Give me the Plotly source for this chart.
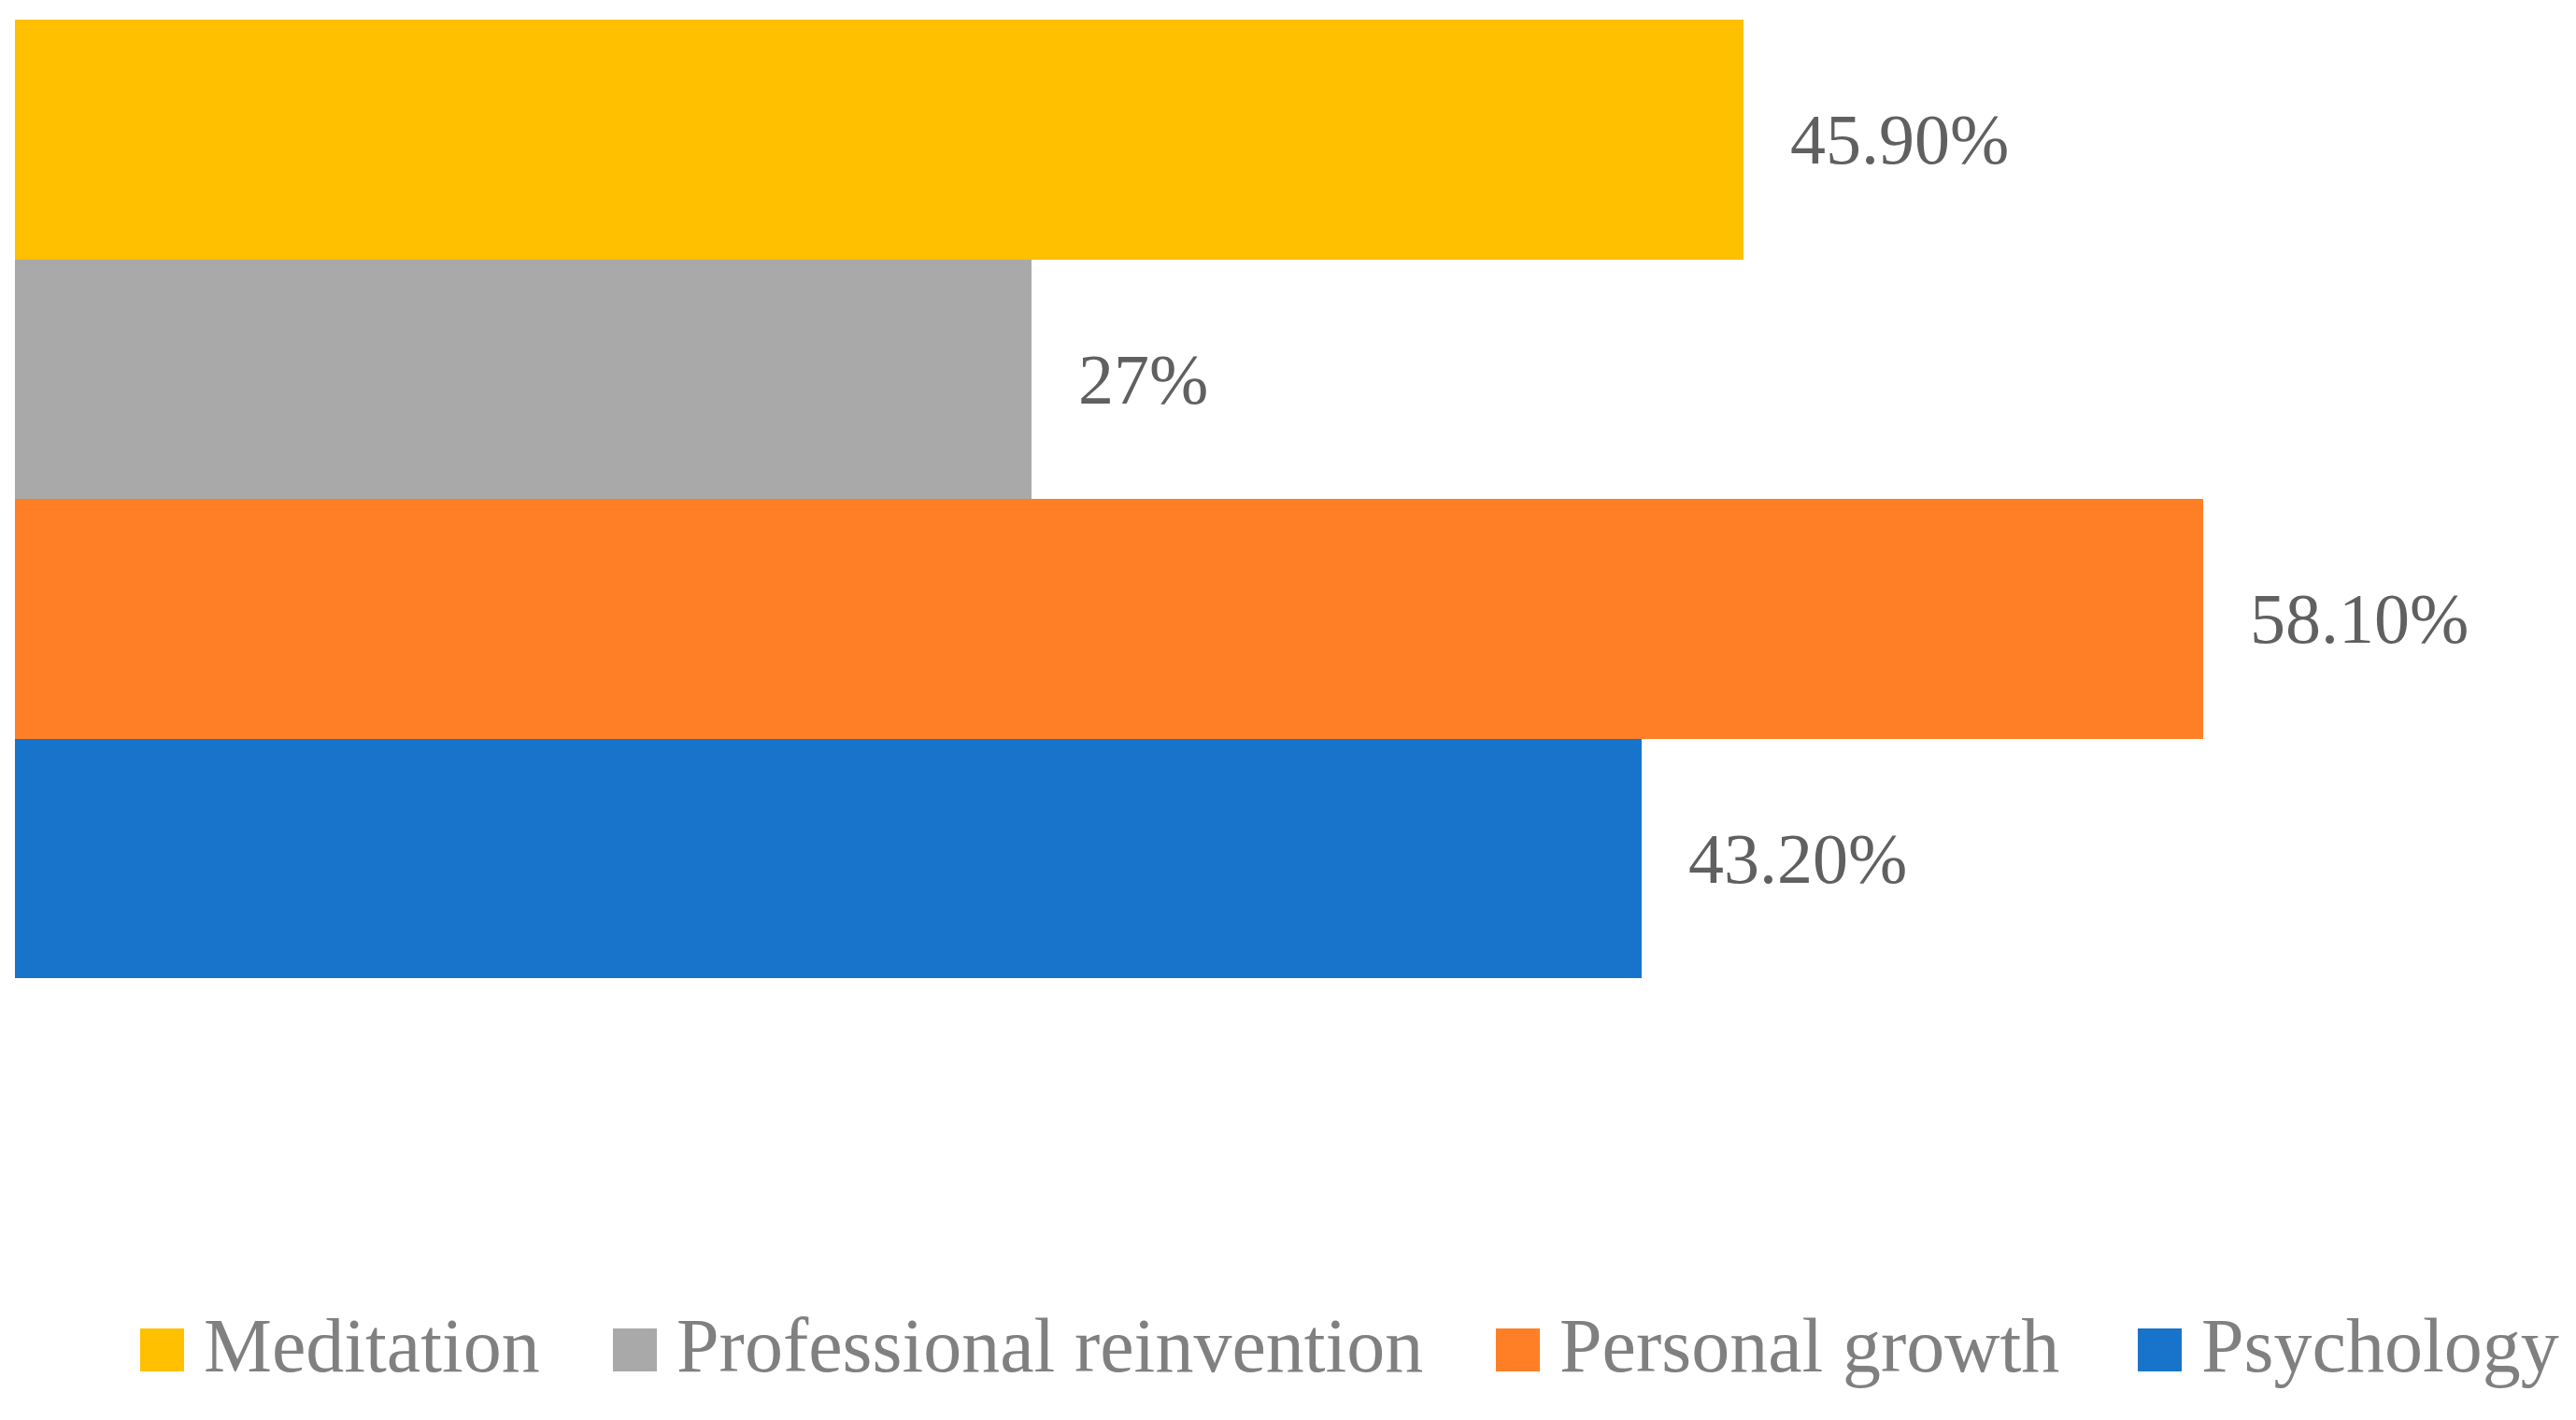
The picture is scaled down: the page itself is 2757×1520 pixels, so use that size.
import plotly.graph_objects as go

# Data (legend order, top to bottom)
series = ["Meditation", "Professional reinvention", "Personal growth", "Psychology"]
values = [45.9, 27.0, 58.1, 43.2]
labels = ["45.90%", "27%", "58.10%", "43.20%"]
colors = ["#FFC000", "#A9A9A9", "#FF7F27", "#1874CB"]

W, H = 2757, 1520
OFF = 8  # browser body margin
ML, MR, MT, MB = 16 - OFF, 16 + OFF, 21 - OFF, 473 + OFF

fig = go.Figure()
for name, v, c in zip(series, values, colors):
    fig.add_trace(go.Bar(y=[name], x=[v], orientation="h", name=name,
                         marker=dict(color=c, line=dict(width=0)),
                         showlegend=False, hoverinfo="x+name"))

# data labels
for name, v, lab in zip(series, values, labels):
    fig.add_annotation(x=v, y=name, xref="x", yref="y", text=lab, showarrow=False,
                       xanchor="left", yanchor="middle", xshift=48,
                       font=dict(family="Liberation Serif", size=76, color="#606060"))

# manual legend (large swatches like the original)
pw = W - ML - MR
ph = H - MT - MB
def px(x):
    return (x - OFF - ML) / pw
def py(y):
    return (H - MB - (y - OFF)) / ph

swatch_x = [150, 656, 1601, 2288]
sw_w, sw_top, sw_bot = 47, 1422, 1468
for name, c, sx in zip(series, colors, swatch_x):
    fig.add_shape(type="rect", xref="paper", yref="paper",
                  x0=px(sx), x1=px(sx + sw_w), y0=py(sw_bot), y1=py(sw_top),
                  fillcolor=c, line=dict(width=0))
    fig.add_annotation(xref="paper", yref="paper", x=px(sx + sw_w + 19), y=py(1440),
                       text=name, showarrow=False, xanchor="left", yanchor="middle",
                       font=dict(family="Liberation Serif", size=82, color="#808080"))

fig.update_layout(
    width=W, height=H, autosize=False,
    margin=dict(l=ML, r=MR, t=MT, b=MB, pad=0),
    paper_bgcolor="white", plot_bgcolor="white",
    barmode="overlay", bargap=0,
    xaxis=dict(range=[0, 67.6], visible=False, fixedrange=True),
    yaxis=dict(categoryorder="array", categoryarray=series[::-1],
               range=[-0.5, 3.5], visible=False, fixedrange=True),
    showlegend=False,
)

fig.write_html("out.html")
